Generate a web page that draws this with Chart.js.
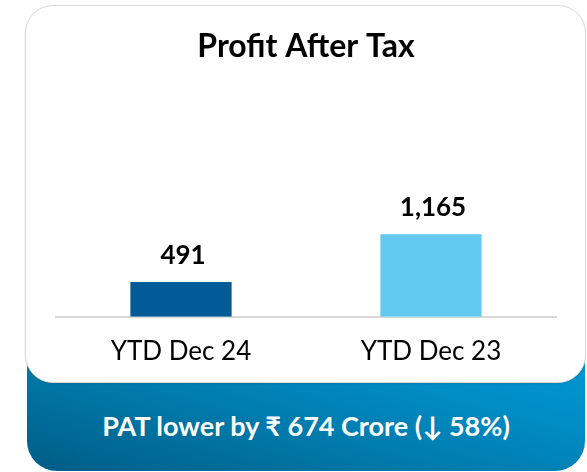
<!DOCTYPE html>
<html>
<head>
<meta charset="utf-8">
<script src="https://cdn.jsdelivr.net/npm/chart.js@4.4.1/dist/chart.umd.min.js"></script>
<style>
  html, body { margin: 0; padding: 0; background: #ffffff; }
  #wrap { position: relative; width: 587px; height: 472px; overflow: hidden; font-family: Lato, "Noto Sans", sans-serif; }
  #panel {
    position: absolute; left: 27px; top: 330px; width: 558px; height: 141px;
    border-radius: 0 0 30px 30px;
    background: linear-gradient(15deg, #005c86 0%, #0078a8 35%, #008cc4 65%, #009dd9 100%);
  }
  #panelText {
    position: absolute; left: 27px; width: 558px; top: 407px; text-align: center;
    color: #ffffff; font: bold 27px Lato, "Noto Sans", "DejaVu Sans", sans-serif; line-height: 38px;
  }
  #card {
    position: absolute; left: 25px; top: 5px; width: 559px; height: 376px;
    background: #ffffff; border: 1.5px solid #d9d9d9; border-radius: 28px;
    box-shadow: 0 1px 2px rgba(0,0,0,0.12);
  }
  #cv { position: absolute; left: 26px; top: 6px; }
</style>
</head>
<body>
<div id="wrap">
  <div id="panel"></div>
  <div id="panelText">PAT lower by ₹ 674 Crore (↓ 58%)</div>
  <div id="card"></div>
  <canvas id="cv" width="560" height="398"></canvas>
</div>
<script>
const categories = ['YTD Dec 24', 'YTD Dec 23'];
const patValues = [491, 1165];
const barColors = ['#005b97', '#62caf2'];
const chartTitle = 'Profit After Tax';

const valueLabels = {
  id: 'valueLabels',
  afterDatasetsDraw(chart) {
    const ctx = chart.ctx;
    const meta = chart.getDatasetMeta(0);
    ctx.save();
    ctx.font = 'bold 26px Lato, "Noto Sans", sans-serif';
    ctx.fillStyle = '#000000';
    ctx.textAlign = 'center';
    ctx.textBaseline = 'alphabetic';
    meta.data.forEach((bar, i) => {
      const v = chart.data.datasets[0].data[i];
      ctx.fillText(v.toLocaleString('en-US'), bar.x + 2, bar.y - 18);
    });
    ctx.restore();
  }
};

new Chart(document.getElementById('cv'), {
  type: 'bar',
  data: {
    labels: categories,
    datasets: [{
      data: patValues,
      backgroundColor: barColors,
      borderWidth: 0,
      categoryPercentage: 1.0,
      barPercentage: 0.405
    }]
  },
  options: {
    responsive: false,
    animation: false,
    devicePixelRatio: 1,
    layout: { padding: { left: 30, right: 30, top: 0, bottom: 18 } },
    plugins: {
      legend: { display: false },
      tooltip: { enabled: false },
      title: {
        display: true,
        text: chartTitle,
        color: '#000000',
        font: { family: 'Lato', size: 32, weight: 'bold' },
        padding: { top: 21, bottom: 19 }
      }
    },
    scales: {
      x: {
        grid: { display: false, drawTicks: false, tickLength: 0 },
        border: { display: true, color: '#d9d9d9', width: 2 },
        ticks: { color: '#000000', font: { family: 'Lato', size: 26 }, padding: 19 }
      },
      y: {
        display: false,
        min: 0,
        max: 3280
      }
    }
  },
  plugins: [valueLabels]
});
</script>
</body>
</html>
